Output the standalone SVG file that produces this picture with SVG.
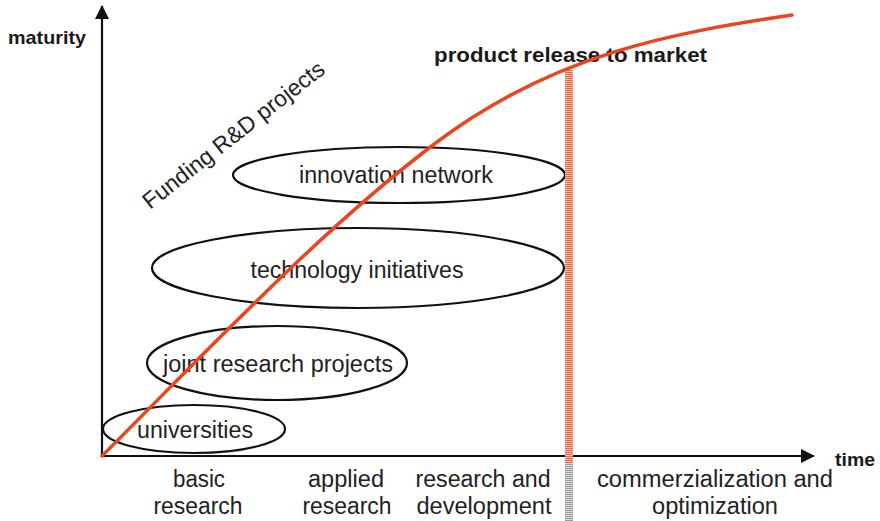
<svg xmlns="http://www.w3.org/2000/svg" width="880" height="521" viewBox="0 0 880 521">
  <style>
    .lbl { font-family: "Liberation Sans", Arial, sans-serif; font-size: 23px; fill: #222; }
    .bold { font-family: "Liberation Sans", Arial, sans-serif; font-weight: bold; fill: #1a1a1a; }
    .mid { text-anchor: middle; }
    .ring { fill: none; stroke: #111; stroke-width: 2.2; }
    .axis { fill: none; stroke: #111; stroke-width: 2.2; }
  </style>
  <defs>
    <marker id="arrow" viewBox="0 0 14 14" refX="13" refY="7" markerWidth="14" markerHeight="14" markerUnits="userSpaceOnUse" orient="auto">
      <path d="M0,0 L14,7 L0,14 Z" fill="#111"/>
    </marker>
    <pattern id="stripeRed" width="8" height="2" patternUnits="userSpaceOnUse">
      <rect width="8" height="1" fill="#ee6446"/>
      <rect y="1" width="8" height="1" fill="#f9c4b6"/>
    </pattern>
    <pattern id="stripeGrey" width="8" height="2" patternUnits="userSpaceOnUse">
      <rect width="8" height="1" fill="#9a9a9a"/>
      <rect y="1" width="8" height="1" fill="#dedede"/>
    </pattern>
  </defs>

  <rect width="880" height="521" fill="#fff"/>

  <!-- axes -->
  <g id="axes">
    <line class="axis" x1="102" y1="457" x2="102" y2="6" marker-end="url(#arrow)"/>
    <line class="axis" x1="101" y1="456" x2="814" y2="456" marker-end="url(#arrow)"/>
    <text class="bold" x="8" y="44" font-size="19" textLength="78" lengthAdjust="spacingAndGlyphs">maturity</text>
    <text class="bold" x="835" y="466" font-size="19" textLength="40" lengthAdjust="spacingAndGlyphs">time</text>
  </g>

  <!-- funding programmes -->
  <g id="node-universities">
    <ellipse class="ring" cx="194" cy="429" rx="91" ry="24"/>
    <text class="lbl mid" x="195" y="438" textLength="116" lengthAdjust="spacingAndGlyphs">universities</text>
  </g>
  <g id="node-joint-research">
    <ellipse class="ring" cx="277" cy="363" rx="130" ry="37"/>
    <text class="lbl mid" x="278" y="372" textLength="230" lengthAdjust="spacingAndGlyphs">joint research projects</text>
  </g>
  <g id="node-technology">
    <ellipse class="ring" cx="358" cy="268" rx="206" ry="40"/>
    <text class="lbl mid" x="357" y="278" textLength="213" lengthAdjust="spacingAndGlyphs">technology initiatives</text>
  </g>
  <g id="node-innovation">
    <ellipse class="ring" cx="399" cy="175" rx="166" ry="28"/>
    <text class="lbl mid" x="396" y="183" textLength="194" lengthAdjust="spacingAndGlyphs">innovation network</text>
  </g>

  <text class="lbl" transform="translate(150,210) rotate(-38)" textLength="224" lengthAdjust="spacingAndGlyphs">Funding R&amp;D projects</text>

  <!-- market release marker -->
  <g id="release">
    <rect x="565" y="70" width="8" height="393" fill="url(#stripeRed)"/>
    <rect x="565" y="463" width="8" height="58" fill="url(#stripeGrey)"/>
    <text class="bold" x="434" y="62" font-size="21" textLength="273" lengthAdjust="spacingAndGlyphs">product release to market</text>
  </g>

  <!-- maturity curve -->
  <g id="connectors">
    <path d="M102,456 C214,344 325,226 437,142 C555,53.5 674,32.7 792,15" fill="none" stroke="#ea4420" stroke-width="3.5" stroke-linecap="round"/>
  </g>

  <!-- phases along the time axis -->
  <g id="phases">
    <text class="lbl mid" x="199" y="487" textLength="52" lengthAdjust="spacingAndGlyphs">basic</text>
    <text class="lbl mid" x="198" y="514" textLength="89" lengthAdjust="spacingAndGlyphs">research</text>
    <text class="lbl mid" x="346" y="487" textLength="76" lengthAdjust="spacingAndGlyphs">applied</text>
    <text class="lbl mid" x="347" y="514" textLength="89" lengthAdjust="spacingAndGlyphs">research</text>
    <text class="lbl mid" x="483" y="487" textLength="135" lengthAdjust="spacingAndGlyphs">research and</text>
    <text class="lbl mid" x="484" y="514" textLength="135" lengthAdjust="spacingAndGlyphs">development</text>
    <text class="lbl mid" x="715" y="487" textLength="236" lengthAdjust="spacingAndGlyphs">commerzialization and</text>
    <text class="lbl mid" x="715" y="514" textLength="126" lengthAdjust="spacingAndGlyphs">optimization</text>
  </g>
</svg>
